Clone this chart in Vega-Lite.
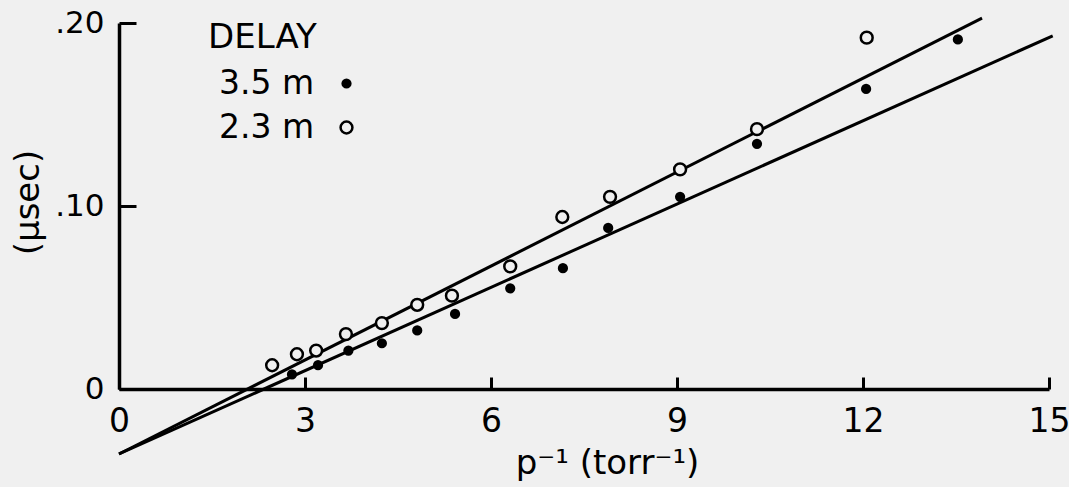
{
  "$schema": "https://vega.github.io/schema/vega-lite/v6.json",
  "width": 930,
  "height": 366,
  "autosize": {"type": "none"},
  "padding": {"left": 119, "top": 23, "right": 20, "bottom": 98},
  "background": "#f0f0f0",
  "config": {
    "view": {"stroke": null},
    "font": "DejaVu Sans",
    "axis": {
      "grid": false,
      "domainColor": "black",
      "domainWidth": 3.5,
      "tickColor": "black",
      "tickWidth": 3,
      "labelColor": "black",
      "titleColor": "black",
      "titleFontWeight": "normal",
      "labelFlush": false,
      "labelOverlap": false
    }
  },
  "datasets": {
    "points": [
      {"delay": "2.3 m", "x": 2.47, "y": 0.013},
      {"delay": "2.3 m", "x": 2.87, "y": 0.019},
      {"delay": "2.3 m", "x": 3.18, "y": 0.021},
      {"delay": "2.3 m", "x": 3.66, "y": 0.030},
      {"delay": "2.3 m", "x": 4.24, "y": 0.036},
      {"delay": "2.3 m", "x": 4.81, "y": 0.046},
      {"delay": "2.3 m", "x": 5.37, "y": 0.051},
      {"delay": "2.3 m", "x": 6.31, "y": 0.067},
      {"delay": "2.3 m", "x": 7.15, "y": 0.094},
      {"delay": "2.3 m", "x": 7.92, "y": 0.105},
      {"delay": "2.3 m", "x": 9.05, "y": 0.120},
      {"delay": "2.3 m", "x": 10.29, "y": 0.142},
      {"delay": "2.3 m", "x": 12.06, "y": 0.192},
      {"delay": "3.5 m", "x": 2.79, "y": 0.008},
      {"delay": "3.5 m", "x": 3.21, "y": 0.013},
      {"delay": "3.5 m", "x": 3.70, "y": 0.021},
      {"delay": "3.5 m", "x": 4.24, "y": 0.025},
      {"delay": "3.5 m", "x": 4.81, "y": 0.032},
      {"delay": "3.5 m", "x": 5.42, "y": 0.041},
      {"delay": "3.5 m", "x": 6.31, "y": 0.055},
      {"delay": "3.5 m", "x": 7.16, "y": 0.066},
      {"delay": "3.5 m", "x": 7.89, "y": 0.088},
      {"delay": "3.5 m", "x": 9.05, "y": 0.105},
      {"delay": "3.5 m", "x": 10.29, "y": 0.134},
      {"delay": "3.5 m", "x": 12.05, "y": 0.164},
      {"delay": "3.5 m", "x": 13.53, "y": 0.191}
    ],
    "lines": [
      {"series": "2.3 m", "x": 0, "y": -0.0355},
      {"series": "2.3 m", "x": 13.92, "y": 0.2027},
      {"series": "3.5 m", "x": 0, "y": -0.0355},
      {"series": "3.5 m", "x": 15.06, "y": 0.193}
    ]
  },
  "layer": [
    {
      "data": {"name": "lines"},
      "mark": {"type": "line", "color": "black", "strokeWidth": 3, "clip": false},
      "encoding": {
        "x": {
          "field": "x", "type": "quantitative",
          "scale": {"domain": [0, 15], "nice": false, "zero": false},
          "axis": {
            "values": [0, 3, 6, 9, 12, 15],
            "format": "d",
            "tickSize": -12,
            "labelFontSize": 33,
            "labelPadding": 28,
            "title": "p⁻¹ (torr⁻¹)",
            "titleFontSize": 34,
            "titleX": 488,
            "titleY": 84,
            "titleAlign": "center",
            "titleBaseline": "alphabetic"
          }
        },
        "y": {
          "field": "y", "type": "quantitative",
          "scale": {"domain": [0, 0.2], "nice": false, "zero": false},
          "axis": {
            "values": [0, 0.1, 0.2],
            "labelExpr": "datum.value == 0 ? '0' : replace(format(datum.value, '.2f'), '0.', '.')",
            "tickSize": -17,
            "labelFontSize": 31,
            "labelPadding": 32,
            "labelBaseline": "middle",
            "title": "(μsec)",
            "titleFontSize": 34,
            "titleX": -91,
            "titleY": 179,
            "titleAngle": -90,
            "titleAlign": "center",
            "titleBaseline": "middle"
          }
        },
        "detail": {"field": "series"}
      }
    },
    {
      "data": {"name": "points"},
      "mark": {"type": "point", "filled": true, "stroke": "black", "strokeWidth": 2.5, "opacity": 1, "clip": false},
      "encoding": {
        "x": {"field": "x", "type": "quantitative"},
        "y": {"field": "y", "type": "quantitative"},
        "fill": {
          "field": "delay", "type": "nominal",
          "scale": {"domain": ["3.5 m", "2.3 m"], "range": ["black", "#f0f0f0"]},
          "legend": {
            "orient": "none",
            "legendX": 89,
            "legendY": -2,
            "padding": 0,
            "title": "DELAY",
            "titleFontSize": 34,
            "titleFontWeight": "normal",
            "titleColor": "black",
            "titlePadding": 12,
            "labelFontSize": 33,
            "labelColor": "black",
            "labelOffset": -144,
            "symbolType": "circle",
            "symbolStrokeColor": "black",
            "symbolStrokeWidth": 2.5,
            "symbolOffset": 122,
            "rowPadding": 10
          }
        },
        "size": {
          "field": "delay", "type": "nominal",
          "scale": {"domain": ["3.5 m", "2.3 m"], "range": [60, 140]}
        }
      }
    }
  ]
}
